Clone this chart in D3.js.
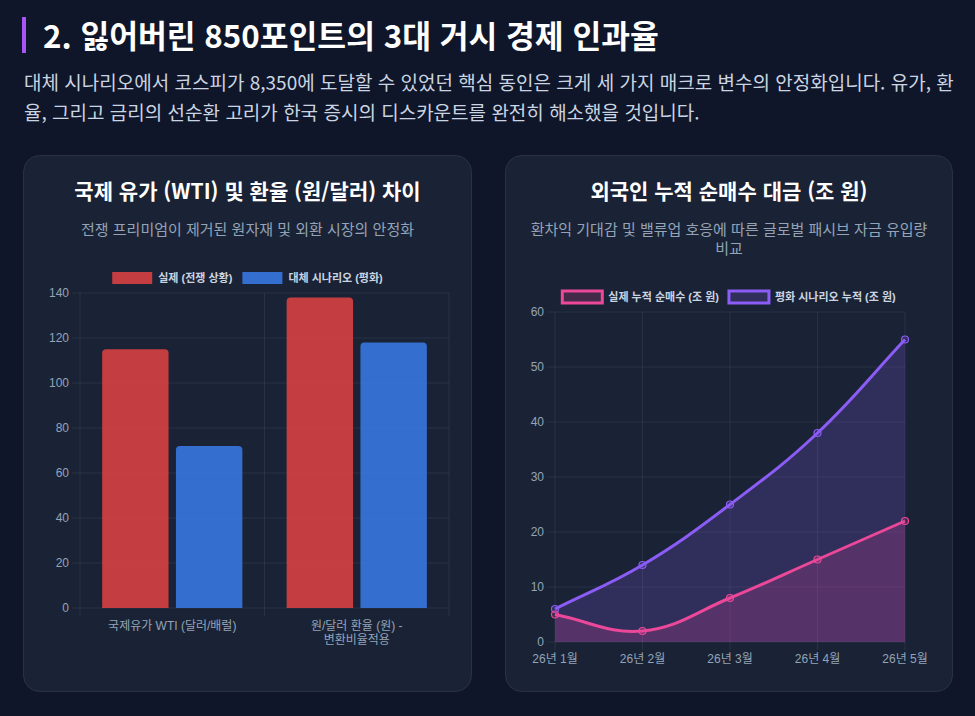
<!DOCTYPE html>
<html lang="ko">
<head>
<meta charset="utf-8">
<script src="https://cdn.jsdelivr.net/npm/d3@7"></script>
<style>
html, body { margin: 0; padding: 0; width: 975px; height: 716px; overflow: hidden; background: #0f1629; }
body { position: relative; font-family: "Noto Sans CJK KR", "Noto Sans", sans-serif; }
#hdr { position: absolute; left: 22px; top: 17px; height: 36px; line-height: 36px; border-left: 4px solid #a855f7;
       padding-left: 17px; color: #fff; font-size: 31.3px; font-weight: bold; white-space: nowrap; }
#lead { position: absolute; left: 24px; top: 67px; line-height: 30px; font-size: 19px; color: #cbd5e1; white-space: nowrap; }
#page { position: absolute; left: 0; top: 0; }
</style>
</head>
<body>
<div id="hdr">2. 잃어버린 850포인트의 3대 거시 경제 인과율</div>
<div id="lead">대체 시나리오에서 코스피가 8,350에 도달할 수 있었던 핵심 동인은 크게 세 가지 매크로 변수의 안정화입니다. 유가, 환<br>율, 그리고 금리의 선순환 고리가 한국 증시의 디스카운트를 완전히 해소했을 것입니다.</div>
<svg id="page" width="975" height="716"></svg>
<script>
// --- data ---
const barCategories = ["국제유가 WTI (달러/배럴)", "원/달러 환율 (원) - 변환비율적용"];
const barCategoryLines = [["국제유가 WTI (달러/배럴)"], ["원/달러 환율 (원) -", "변환비율적용"]];
const barSeries = ["실제 (전쟁 상황)", "대체 시나리오 (평화)"];
const barActual = [115, 138];
const barPeace = [72, 118];
const barTicks = [0, 20, 40, 60, 80, 100, 120, 140];

const months = ["26년 1월", "26년 2월", "26년 3월", "26년 4월", "26년 5월"];
const lineSeries = ["실제 누적 순매수 (조 원)", "평화 시나리오 누적 (조 원)"];
const flowActual = [5, 2, 8, 15, 22];
const flowPeace = [6, 14, 25, 38, 55];
const lineTicks = [0, 10, 20, 30, 40, 50, 60];

const svg = d3.select("#page");
const chartFont = "'Liberation Sans', Arial, 'Noto Sans CJK KR', sans-serif";
const gridColor = "rgba(148,163,184,0.12)";
const tickColor = "#94a3b8";

// cards
const cards = [
    {x: 23, y: 155, w: 449, h: 537, title: "국제 유가 (WTI) 및 환율 (원/달러) 차이",
     sub: ["전쟁 프리미엄이 제거된 원자재 및 외환 시장의 안정화"]},
    {x: 505, y: 155, w: 448, h: 537, title: "외국인 누적 순매수 대금 (조 원)",
     sub: ["환차익 기대감 및 밸류업 호응에 따른 글로벌 패시브 자금 유입량", "비교"]}
];
cards.forEach(c => {
    svg.append("rect")
        .attr("x", c.x + 0.5).attr("y", c.y + 0.5)
        .attr("width", c.w - 1).attr("height", c.h - 1)
        .attr("rx", 16)
        .attr("fill", "#1a2335")
        .attr("stroke", "rgba(255,255,255,0.09)");
    svg.append("text")
        .attr("x", c.x + c.w / 2).attr("y", c.y + 44)
        .attr("text-anchor", "middle")
        .attr("fill", "#ffffff")
        .attr("font-size", 21).attr("font-weight", "bold")
        .text(c.title);
    c.sub.forEach((s, i) => {
        svg.append("text")
            .attr("x", c.x + c.w / 2).attr("y", c.y + 80 + i * 19)
            .attr("text-anchor", "middle")
            .attr("fill", "#94a3b8")
            .attr("font-size", 15)
            .text(s);
    });
});

// legend, centred like chart.js does it
function drawLegend(cx, cy, items) {
    const g = svg.append("g");
    const widths = items.map(it => {
        const t = g.append("text").attr("font-family", chartFont).attr("font-size", 11)
            .attr("font-weight", "bold").text(it.label);
        const w = t.node().getComputedTextLength();
        t.remove();
        return w;
    });
    const total = d3.sum(widths) + items.length * (40 + 6) + (items.length - 1) * 10;
    let x = cx - total / 2;
    items.forEach((it, i) => {
        g.append("rect")
            .attr("x", x).attr("y", cy - 6)
            .attr("width", 40).attr("height", 12)
            .attr("fill", it.fill)
            .attr("stroke", it.stroke)
            .attr("stroke-width", it.strokeWidth);
        g.append("text")
            .attr("x", x + 46).attr("y", cy)
            .attr("dominant-baseline", "central")
            .attr("font-family", chartFont).attr("font-size", 11).attr("font-weight", "bold")
            .attr("fill", "#cbd5e1")
            .text(it.label);
        x += 46 + widths[i] + 10;
    });
}

// ---------- bar chart ----------
const barColors = ["rgba(239,68,68,0.8)", "rgba(59,130,246,0.8)"];
const barValues = [barActual, barPeace];

const x0 = d3.scaleBand().domain(barCategories).range([80, 449]);
const x1 = d3.scaleBand().domain(barSeries).range([x0.bandwidth() * 0.1, x0.bandwidth() * 0.9])
    .paddingInner(0.1).paddingOuter(0.05);
const yBar = d3.scaleLinear().domain([0, 140]).range([608, 293]);

drawLegend(247.5, 278, barSeries.map((s, i) => ({label: s, fill: barColors[i], stroke: "none", strokeWidth: 0})));

const gb = svg.append("g");
barTicks.forEach(t => {
    gb.append("line")
        .attr("x1", 72).attr("x2", 449)
        .attr("y1", yBar(t)).attr("y2", yBar(t))
        .attr("stroke", gridColor);
    gb.append("text")
        .attr("x", 69).attr("y", yBar(t))
        .attr("text-anchor", "end").attr("dominant-baseline", "central")
        .attr("font-family", chartFont).attr("font-size", 12).attr("fill", tickColor)
        .text(t);
});
const bounds = barCategories.map(c => x0(c)).concat([x0.range()[1]]);
bounds.forEach(bx => {
    gb.append("line")
        .attr("x1", bx).attr("x2", bx)
        .attr("y1", 293).attr("y2", 616)
        .attr("stroke", gridColor);
});

function topRoundedBar(x, y, w, h, r) {
    const p = d3.path();
    p.moveTo(x, y + h);
    p.lineTo(x, y + r);
    p.quadraticCurveTo(x, y, x + r, y);
    p.lineTo(x + w - r, y);
    p.quadraticCurveTo(x + w, y, x + w, y + r);
    p.lineTo(x + w, y + h);
    p.closePath();
    return p.toString();
}

barCategories.forEach((cat, ci) => {
    barSeries.forEach((s, si) => {
        const v = barValues[si][ci];
        const bx = x0(cat) + x1(s);
        gb.append("path")
            .attr("d", topRoundedBar(bx, yBar(v), x1.bandwidth(), yBar(0) - yBar(v), 4))
            .attr("fill", barColors[si]);
    });
    barCategoryLines[ci].forEach((line, li) => {
        gb.append("text")
            .attr("x", x0(cat) + x0.bandwidth() / 2)
            .attr("y", 626 + li * 14)
            .attr("text-anchor", "middle").attr("dominant-baseline", "central")
            .attr("font-family", chartFont).attr("font-size", 12).attr("fill", tickColor)
            .text(line);
    });
});

// ---------- line chart ----------
const xLine = d3.scalePoint().domain(months).range([555, 905]);
const yLine = d3.scaleLinear().domain([0, 60]).range([642, 312]);
const lineColors = ["#ec4899", "#8b5cf6"];
const lineFills = ["rgba(236,72,153,0.2)", "rgba(139,92,246,0.2)"];
const lineValues = [flowActual, flowPeace];

drawLegend(729, 297, lineSeries.map((s, i) => ({label: s, fill: lineFills[i], stroke: lineColors[i], strokeWidth: 3})));

const gl = svg.append("g");
lineTicks.forEach(t => {
    gl.append("line")
        .attr("x1", 547).attr("x2", 905)
        .attr("y1", yLine(t)).attr("y2", yLine(t))
        .attr("stroke", gridColor);
    gl.append("text")
        .attr("x", 544).attr("y", yLine(t))
        .attr("text-anchor", "end").attr("dominant-baseline", "central")
        .attr("font-family", chartFont).attr("font-size", 12).attr("fill", tickColor)
        .text(t);
});
months.forEach(m => {
    gl.append("line")
        .attr("x1", xLine(m)).attr("x2", xLine(m))
        .attr("y1", 312).attr("y2", 650)
        .attr("stroke", gridColor);
    gl.append("text")
        .attr("x", xLine(m)).attr("y", 659)
        .attr("text-anchor", "middle").attr("dominant-baseline", "central")
        .attr("font-family", chartFont).attr("font-size", 12).attr("fill", tickColor)
        .text(m);
});

// chart.js style spline (tension 0.4)
function splinePath(pts, tension, top, bottom) {
    const cps = pts.map((p, i) => {
        const a = pts[i - 1] || p, b = pts[i + 1] || p;
        const d01 = Math.hypot(p[0] - a[0], p[1] - a[1]);
        const d12 = Math.hypot(b[0] - p[0], b[1] - p[1]);
        let s01 = d01 / (d01 + d12), s12 = d12 / (d01 + d12);
        if (isNaN(s01)) s01 = 0;
        if (isNaN(s12)) s12 = 0;
        const fa = tension * s01, fb = tension * s12;
        const clampY = y => Math.max(top, Math.min(bottom, y));
        return {
            prev: [p[0] - fa * (b[0] - a[0]), clampY(p[1] - fa * (b[1] - a[1]))],
            next: [p[0] + fb * (b[0] - a[0]), clampY(p[1] + fb * (b[1] - a[1]))]
        };
    });
    const path = d3.path();
    path.moveTo(pts[0][0], pts[0][1]);
    for (let i = 1; i < pts.length; i++) {
        path.bezierCurveTo(cps[i - 1].next[0], cps[i - 1].next[1], cps[i].prev[0], cps[i].prev[1], pts[i][0], pts[i][1]);
    }
    return path.toString();
}

// chart.js paints the last dataset first
[1, 0].forEach(si => {
    const pts = months.map((m, i) => [xLine(m), yLine(lineValues[si][i])]);
    const curve = splinePath(pts, 0.4, 312, 642);
    const last = pts[pts.length - 1];
    gl.append("path")
        .attr("d", curve + "L" + last[0] + "," + yLine(0) + "L" + pts[0][0] + "," + yLine(0) + "Z")
        .attr("fill", lineFills[si]);
    gl.append("path")
        .attr("d", curve)
        .attr("fill", "none")
        .attr("stroke", lineColors[si])
        .attr("stroke-width", 3);
    gl.selectAll(null)
        .data(lineValues[si])
        .enter().append("circle")
        .attr("cx", (d, i) => xLine(months[i]))
        .attr("cy", d => yLine(d))
        .attr("r", 3.5)
        .attr("fill", lineFills[si])
        .attr("stroke", lineColors[si])
        .attr("stroke-width", 1.2);
});
</script>
</body>
</html>
